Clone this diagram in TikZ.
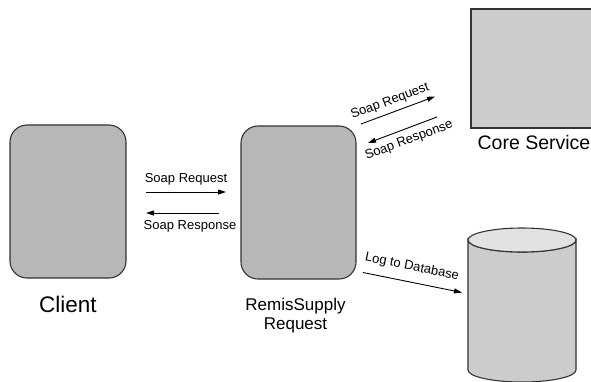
\documentclass[tikz,border=0pt]{standalone}
\usepackage{fontspec}
\setmainfont{Liberation Sans}
\usetikzlibrary{arrows.meta}
\definecolor{boxfill}{HTML}{B7B7B7}
\definecolor{lightfill}{HTML}{CCCCCC}
\definecolor{topfill}{HTML}{E2E2E2}
\definecolor{edge}{HTML}{333333}
\begin{document}
\begin{tikzpicture}[x=1bp,y=-1bp,
  rbox/.style={draw=edge, line width=1.1bp, fill=boxfill, rounded corners=17bp, inner sep=0pt},
  sqbox/.style={draw=edge, line width=1.1bp, fill=lightfill, inner sep=0pt},
  cyl/.style={draw=edge, line width=1.1bp},
  arr/.style={-{Triangle[length=8bp,width=5bp]}, line width=0.9bp, black},
  small/.style={font=\fontsize{13bp}{15bp}\selectfont, inner sep=0pt},
  biglbl/.style={inner sep=0pt, align=center},
]
\useasboundingbox (0,0) rectangle (591,381);

% boxes
\node[rbox, minimum width=116bp, minimum height=153bp] (client) at (68,201.5) {};
\node[rbox, minimum width=115bp, minimum height=153bp] (remis) at (298.5,202.5) {};
\node[sqbox, minimum width=124bp, minimum height=119bp] (core) at (533,68.5) {};

% database cylinder
\filldraw[cyl, fill=lightfill] (468,240) -- (468,370)
  arc[start angle=180, end angle=0, x radius=54, y radius=12] -- (576,240)
  arc[start angle=0, end angle=180, x radius=54, y radius=12] -- cycle;
\filldraw[cyl, fill=topfill] (522,240) ellipse[x radius=54, y radius=12];
\coordinate (db) at (522,305);

% labels
\node[biglbl, font=\fontsize{22.5bp}{26bp}\selectfont] (clientlbl) at (68,304.8) {Client};
\node[biglbl, font=\fontsize{17bp}{19.5bp}\selectfont] (remislbl) at (295.5,315.4) {RemisSupply\\Request};
\node[biglbl, font=\fontsize{19.5bp}{22bp}\selectfont] (corelbl) at (534,143) {Core Service};

% arrow end points
\coordinate (hq1) at (146,192);
\coordinate (hq2) at (226,192);
\coordinate (hs1) at (219,213);
\coordinate (hs2) at (146,213);
\coordinate (dq1) at (361,124);
\coordinate (dq2) at (435,96.5);
\coordinate (ds1) at (437,117);
\coordinate (ds2) at (368,143);
\coordinate (lg1) at (363,272.5);
\coordinate (lg2) at (462,292.5);

% connectors
\draw[arr] (hq1) -- (hq2) node[small] (hqlbl) at (186,179.3) {Soap Request};
\draw[arr] (hs1) -- (hs2) node[small] (hslbl) at (190,226.6) {Soap Response};
\draw[arr] (dq1) -- (dq2) node[small, rotate=20.5] (dqlbl) at (390,101.5) {Soap Request};
\draw[arr] (ds1) -- (ds2) node[small, rotate=20.5] (dslbl) at (409,140.5) {Soap Response};
\draw[arr] (lg1) -- (lg2) node[small, rotate=-11.5] (lglbl) at (412,267) {Log to Database};
\end{tikzpicture}
\end{document}
